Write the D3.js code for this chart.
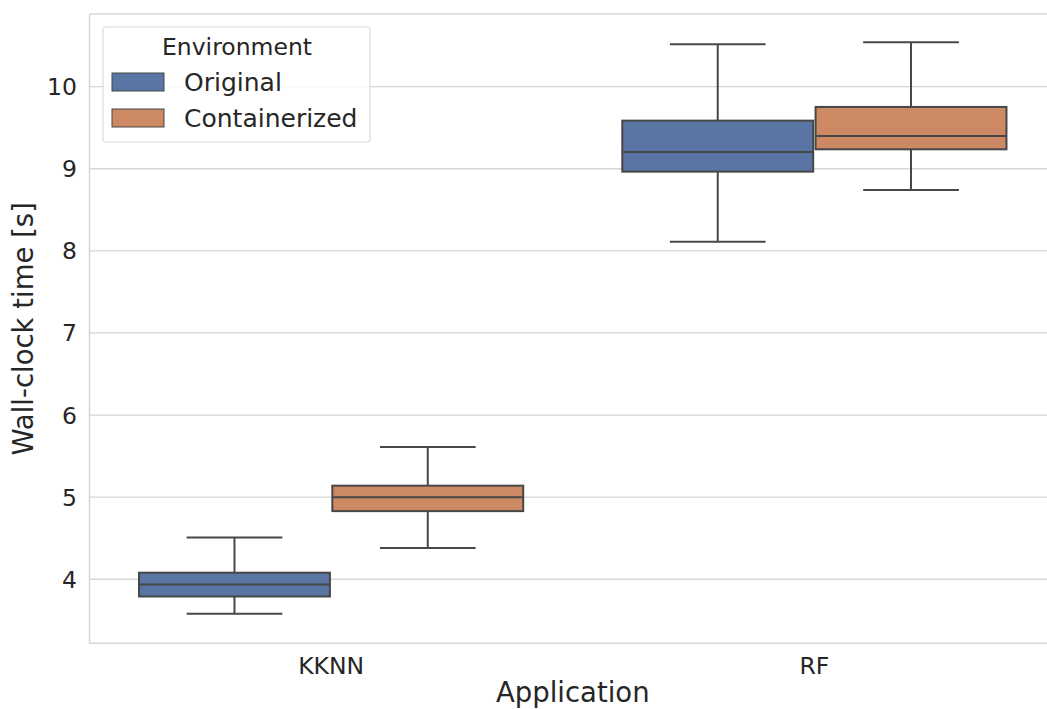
<!DOCTYPE html>
<html><head><meta charset="utf-8">
<script src="https://cdn.jsdelivr.net/npm/d3@7"></script>
<style>body{margin:0;background:#fff;} svg{display:block;font-family:"DejaVu Sans",sans-serif;}</style>
</head><body>
<svg id="c" width="1047" height="709"></svg>
<script>
const categories = ["KKNN", "RF"];
const environments = ["Original", "Containerized"];
const colors = ["#5975a4", "#cc8963"];
// [whiskerLow, q1, median, q3, whiskerHigh]
const originalStats = [[3.58, 3.79, 3.935, 4.08, 4.51], [8.11, 8.965, 9.205, 9.586, 10.516]];
const containerizedStats = [[4.38, 4.83, 5.0, 5.14, 5.61], [8.74, 9.237, 9.40, 9.753, 10.54]];
const yTicks = [4, 5, 6, 7, 8, 9, 10];

(function () {
const svg = d3.select("#c");
const pLeft = 89.5, pTop = 14, pBottom = 643.3;
const x = d3.scaleLinear().domain([-0.5, 1.5]).range([pLeft, 1056]);
const y = d3.scaleLinear().domain([3.22, 10.885]).range([pBottom, pTop]);
const grid = "#d6d6d6", edge = "#474747", txt = "#262626";

svg.append("g").selectAll("line").data(yTicks).join("line")
  .attr("x1", pLeft).attr("x2", 1047).attr("y1", d => y(d)).attr("y2", d => y(d))
  .attr("stroke", grid).attr("stroke-width", 1.3);
svg.append("line").attr("x1", pLeft).attr("x2", pLeft).attr("y1", pTop).attr("y2", pBottom).attr("stroke", grid).attr("stroke-width", 1.5);
svg.append("line").attr("x1", pLeft).attr("x2", 1047).attr("y1", pTop).attr("y2", pTop).attr("stroke", grid).attr("stroke-width", 1.5);
svg.append("line").attr("x1", pLeft).attr("x2", 1047).attr("y1", pBottom).attr("y2", pBottom).attr("stroke", grid).attr("stroke-width", 1.5);

svg.append("g").selectAll("text").data(yTicks).join("text")
  .attr("x", 77).attr("y", d => y(d)).attr("dy", "0.36em").attr("text-anchor", "end")
  .attr("font-size", 23.5).attr("fill", txt).text(d => d);
svg.append("g").selectAll("text").data(categories).join("text")
  .attr("x", (d, i) => x(i)).attr("y", 674).attr("text-anchor", "middle")
  .attr("font-size", 23.5).attr("fill", txt).text(d => d);

svg.append("text").attr("x", x(0.5)).attr("y", 702).attr("text-anchor", "middle")
  .attr("font-size", 27.5).attr("fill", txt).text("Application");
svg.append("text").attr("transform", `translate(33,${y(7.05)}) rotate(-90)`).attr("text-anchor", "middle")
  .attr("font-size", 27.5).attr("fill", txt).text("Wall-clock time [s]");

const allStats = [originalStats, containerizedStats];
const boxW = 0.395, capW = 0.198;
allStats.forEach((stats, h) => {
  const off = h === 0 ? -0.2 : 0.2;
  stats.forEach((s, i) => {
    const c = i + off;
    const g = svg.append("g");
    g.append("line").attr("x1", x(c)).attr("x2", x(c)).attr("y1", y(s[0])).attr("y2", y(s[1])).attr("stroke", edge).attr("stroke-width", 2);
    g.append("line").attr("x1", x(c)).attr("x2", x(c)).attr("y1", y(s[3])).attr("y2", y(s[4])).attr("stroke", edge).attr("stroke-width", 2);
    g.append("line").attr("x1", x(c - capW / 2)).attr("x2", x(c + capW / 2)).attr("y1", y(s[0])).attr("y2", y(s[0])).attr("stroke", edge).attr("stroke-width", 2);
    g.append("line").attr("x1", x(c - capW / 2)).attr("x2", x(c + capW / 2)).attr("y1", y(s[4])).attr("y2", y(s[4])).attr("stroke", edge).attr("stroke-width", 2);
    g.append("rect").attr("x", x(c - boxW / 2)).attr("width", x(c + boxW / 2) - x(c - boxW / 2))
      .attr("y", y(s[3])).attr("height", y(s[1]) - y(s[3]))
      .attr("fill", colors[h]).attr("stroke", edge).attr("stroke-width", 2);
    g.append("line").attr("x1", x(c - boxW / 2)).attr("x2", x(c + boxW / 2)).attr("y1", y(s[2])).attr("y2", y(s[2])).attr("stroke", edge).attr("stroke-width", 2);
  });
});

const lg = svg.append("g");
lg.append("rect").attr("x", 103).attr("y", 27).attr("width", 267).attr("height", 115).attr("rx", 3)
  .attr("fill", "#fff").attr("fill-opacity", 0.8).attr("stroke", "#dcdcdc").attr("stroke-width", 1.2);
lg.append("text").attr("x", 237).attr("y", 55).attr("text-anchor", "middle").attr("font-size", 23.5).attr("fill", txt).text("Environment");
environments.forEach((e, i) => {
  const yy = 73 + i * 36;
  lg.append("rect").attr("x", 112).attr("y", yy).attr("width", 52).attr("height", 18)
    .attr("fill", colors[i]).attr("stroke", edge).attr("stroke-width", 1);
  lg.append("text").attr("x", 184).attr("y", yy + 9).attr("dy", "0.36em").attr("font-size", 25).attr("fill", txt).text(e);
});
})();
</script>
</body></html>
